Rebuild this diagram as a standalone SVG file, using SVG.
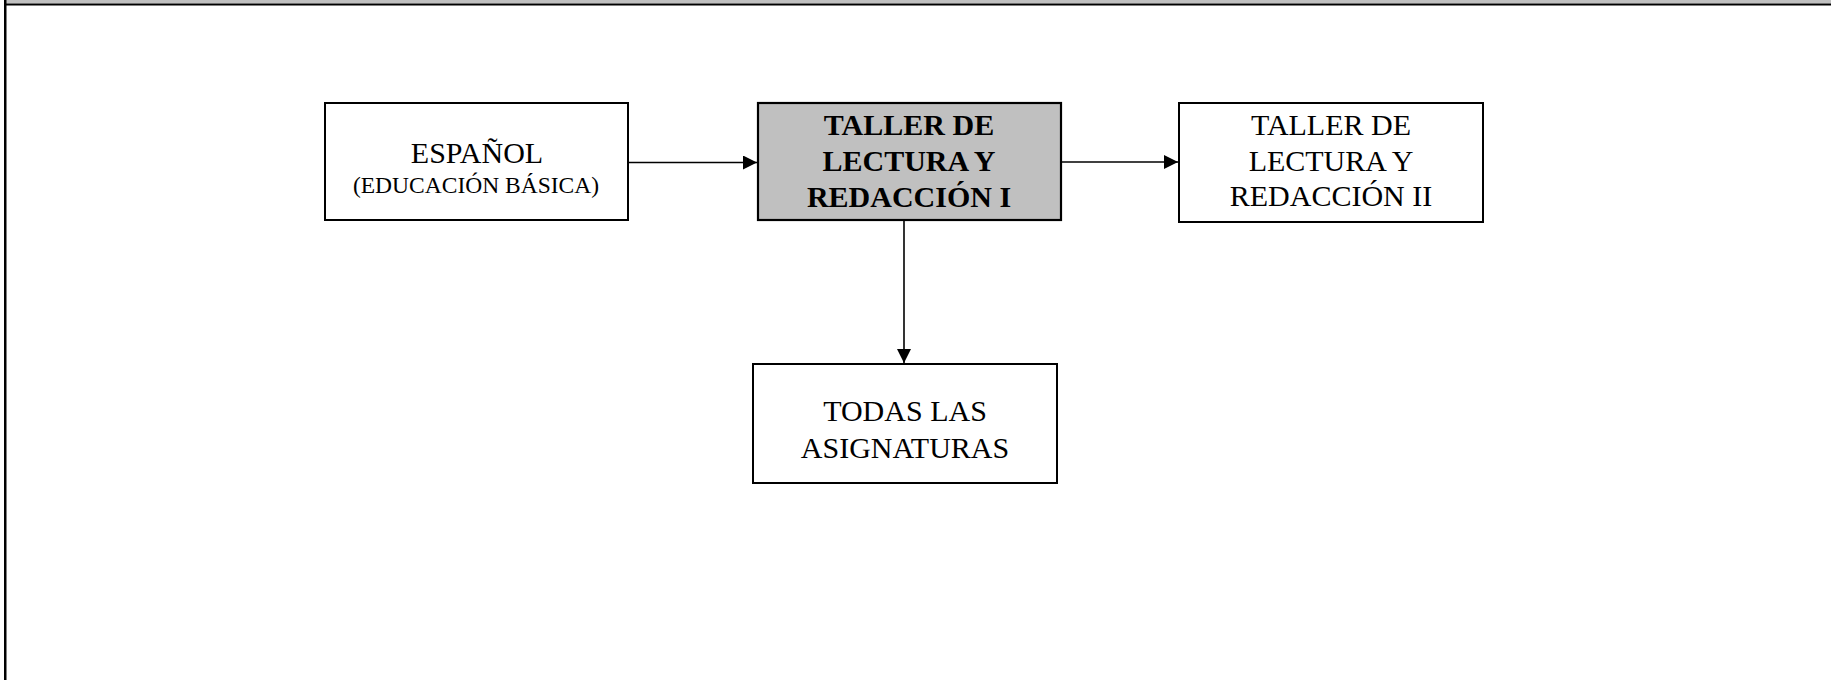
<svg xmlns="http://www.w3.org/2000/svg" width="1831" height="680" viewBox="0 0 1831 680">
<style>
.box{fill:#ffffff;stroke:#000000;stroke-width:2}
.hl{fill:#c0c0c0;stroke:#000000;stroke-width:2.2}
.t{font-family:"Liberation Serif","Times New Roman",serif;font-size:30px;fill:#000000;text-anchor:middle}
.b{font-weight:bold}
.s{font-size:23.5px}
.conn{stroke:#000000;stroke-width:1.6;fill:none}
</style>
<defs>
<marker id="ah" viewBox="0 0 10 10" refX="10" refY="5" markerWidth="15" markerHeight="14" markerUnits="userSpaceOnUse" orient="auto">
<path d="M0,0 L10,5 L0,10 Z" fill="#000000"/>
</marker>
</defs>
<rect x="0" y="0" width="1831" height="680" fill="#ffffff"/>
<g id="frame">
<rect x="6" y="0" width="1825" height="3.5" fill="#c0c0c0"/>
<rect x="4" y="3.5" width="1827" height="2" fill="#000000"/>
<rect x="4" y="0" width="2.5" height="680" fill="#000000"/>
</g>
<g id="connectors">
<line class="conn" x1="629" y1="162.5" x2="757" y2="162.5" marker-end="url(#ah)"/>
<line class="conn" x1="1062" y1="162" x2="1178" y2="162" marker-end="url(#ah)"/>
<line class="conn" x1="904" y1="221" x2="904" y2="363" marker-end="url(#ah)"/>
</g>
<g id="node-espanol">
<rect class="box" x="325" y="103" width="303" height="117"/>
<text class="t" x="477" y="163">ESPAÑOL</text>
<text class="t s" x="476" y="193">(EDUCACIÓN BÁSICA)</text>
</g>
<g id="node-taller1">
<rect class="hl" x="758" y="103" width="303" height="117"/>
<text class="t b" x="909" y="135">TALLER DE</text>
<text class="t b" x="909" y="171">LECTURA Y</text>
<text class="t b" x="909" y="207">REDACCIÓN I</text>
</g>
<g id="node-taller2">
<rect class="box" x="1179" y="103" width="304" height="119"/>
<text class="t" x="1331" y="135">TALLER DE</text>
<text class="t" x="1331" y="171">LECTURA Y</text>
<text class="t" x="1331" y="206">REDACCIÓN II</text>
</g>
<g id="node-todas">
<rect class="box" x="753" y="364" width="304" height="119"/>
<text class="t" x="905" y="421">TODAS LAS</text>
<text class="t" x="905" y="458">ASIGNATURAS</text>
</g>
</svg>
